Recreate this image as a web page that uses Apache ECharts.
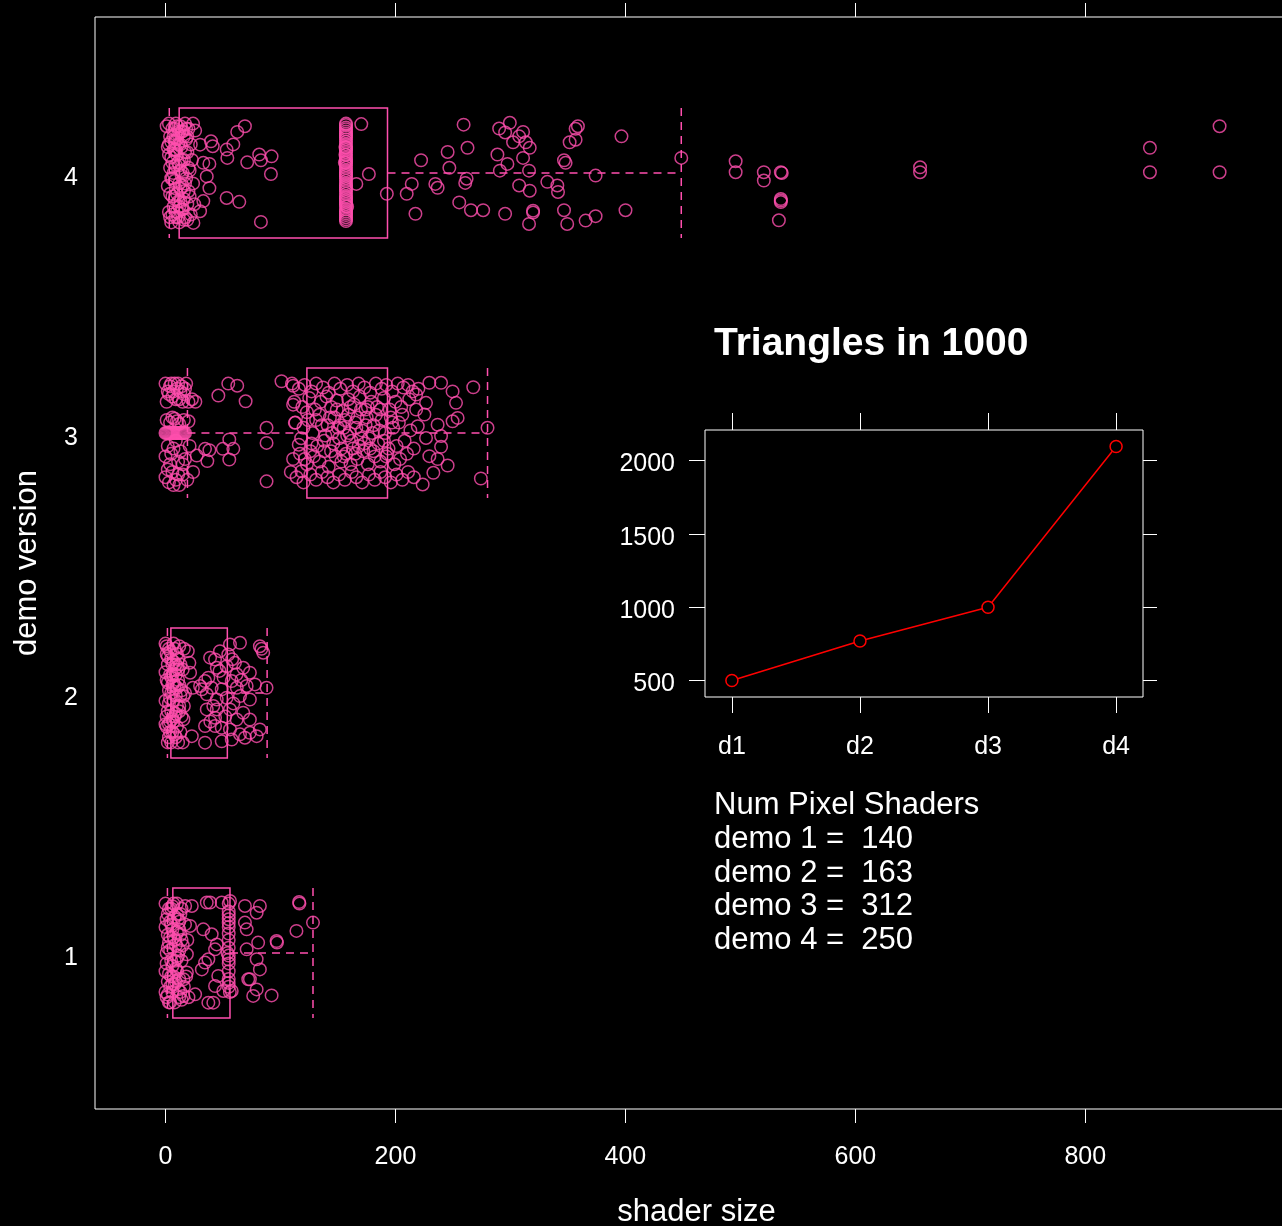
<!DOCTYPE html>
<html>
<head>
<meta charset="utf-8">
<script src="https://cdn.jsdelivr.net/npm/echarts@6/dist/echarts.min.js"></script>
<style>
  html, body { margin: 0; padding: 0; background: #000; }
  #chart { width: 1282px; height: 1226px; }
</style>
</head>
<body>
<div id="chart"></div>
<script>
// --- data ---
// jittered points per demo: [shader size, vertical jitter]
const demo1Points = [
  [0,0.19],[1,0.13],[2,0.07],[3,0.17],[4,0.01],[5,0.11],[6,-0.05],[7,0.19],[8,0.05],[9,-0.11],[10,0.15],[11,-0.01],
  [12,0.09],[13,-0.15],[14,0.17],[15,0.03],[0,-0.07],[1,-0.17],[2,-0.11],[3,-0.19],[4,-0.13],[5,-0.03],[6,-0.15],
  [7,-0.09],[8,-0.19],[9,0.03],[10,-0.07],[11,0.13],[12,-0.17],[13,0.07],[14,-0.03],[16,-0.13],[17,0.11],[18,-0.09],
  [19,0.05],[20,-0.17],[2,0.15],[4,-0.19],[6,0.09],[8,-0.03],[10,0.19],[12,0.01],[1,0],[3,0.04],[5,-0.09],
  [0,0.1],[1,-0.04],[2,0.02],[3,-0.08],[4,0.12],[5,0.17],[6,-0.12],[7,0.06],[8,0.14],[9,-0.06],[10,0.08],[11,-0.14],
  [12,-0.1],[13,0.15],[14,0.05],[0,-0.15],[2,-0.16],[4,0.06],[6,0.18],[8,-0.12],[10,-0.02],[12,0.12],[14,-0.18],
  [55,0.19],[55,0.16],[55,0.13],[55,0.1],[55,0.075],[55,0.05],[55,0.02],[55,-0.01],[55,-0.04],[55,-0.07],[55,-0.1],
  [55,-0.13],[54,0],[56,-0.15],[55,0.145],[55,0.115],[55,-0.025],[55,-0.115],
  [116.2,0.196],[116.5,0.19],[113.9,0.085],[128.3,0.117],[96.6,0.046],[97,0.04],[92.3,-0.163],[76.3,-0.165],
  [73.4,-0.101],[79.3,-0.14],[82.1,-0.063],[79.3,-0.024],[70.6,0.014],[80.6,0.04],[82.1,0.181],[79.3,0.155],
  [69.1,0.181],[69.1,0.117],[70.6,0.091],[72,-0.101],[35.9,0.194],[38.8,0.194],[48.9,0.194],[56.1,0.2],
  [43.1,0.014],[44.6,0.033],[40.2,0.072],[32.9,0.091],[34.4,-0.037],[37.3,-0.024],[45.9,-0.088],[43.1,-0.127],
  [41.6,-0.191],[37.3,-0.191],[25.8,-0.159],[31.6,-0.063],[18.6,-0.005],[21.4,0.104],[17.1,0.181],[22.9,0.181],
  [50.3,-0.146],[57.6,-0.146],[15.6,-0.165],[15.6,-0.101],[18.6,-0.075]
];
const demo2Points = [
  [0,0.19],[1,0.15],[2,0.11],[3,0.17],[4,0.07],[5,0.13],[6,0.03],[7,0.19],[8,0.09],[9,-0.01],[10,0.15],[11,0.05],
  [12,-0.05],[13,0.11],[14,-0.09],[0,-0.03],[1,-0.13],[2,-0.07],[3,-0.17],[4,-0.11],[5,-0.19],[6,-0.15],[7,-0.03],
  [8,-0.09],[9,-0.17],[10,-0.13],[11,-0.19],[12,-0.07],[13,-0.15],[14,0.01],[15,-0.19],[16,0.17],[3,0.01],[5,0],
  [7,-0.11],[9,0.07],[11,0.13],[13,-0.01],[1,0.05],[15,0.09],[16,-0.05],[17,0],[6,0.11],[8,0.17],[2,-0.19],[10,0.02],
  [12,0.18],[4,-0.02],
  [0,0.08],[1,-0.09],[2,0.04],[3,-0.04],[4,0.16],[5,-0.07],[6,-0.1],[7,0.12],[8,-0.16],[9,0.11],[10,-0.05],[11,0.09],
  [0,-0.12],[2,0.14],[4,-0.15],[6,0.07],[8,0.03],[10,0.1],[12,0.03],[1,0.18],[3,-0.12],[5,0.06],[7,0.04],[9,-0.08],
  [19.4,0.161],[20.8,0.116],[21.4,0.078],[23.8,0.02],[22.9,-0.166],[15.6,-0.012],[15.6,-0.101],[38.8,0.136],
  [43.1,0.129],[47.4,0.161],[56.1,0.187],[64.8,0.193],[54.6,0.148],[60.4,0.116],[67.6,0.097],[73.4,0.078],
  [53.2,0.103],[44.6,0.097],[37.3,0.059],[34.4,0.046],[31.6,0.014],[40.2,0.02],[48.9,0.014],[57.6,0.046],
  [61.9,0.072],[70.6,0.027],[77.8,0.033],[87.9,0.02],[82.1,0.18],[85,0.155],[83.5,0.17],[35.9,-0.005],
  [44.6,-0.025],[53.2,-0.018],[64.8,-0.012],[73.4,-0.025],[35.9,-0.063],[44.6,-0.063],[56.1,-0.063],[67.6,-0.076],
  [43.1,-0.095],[61.9,-0.102],[73.4,-0.102],[34.4,-0.127],[43.1,-0.127],[48.9,-0.134],[56.1,-0.14],[64.8,-0.159],
  [73.4,-0.153],[82.1,-0.14],[34.4,-0.191],[48.9,-0.186],[57.6,-0.179],[69.1,-0.172],[79.3,-0.166],[30.1,0.027],
  [41.6,-0.05],[50.5,0.06],[59,-0.04],[66,0.05],[39,-0.11],[52,-0.09],[62,0.02],[47,0.085],[58,0.13]
];
const demo3Points = [
  [0,0],[1,0],[2,0],[3,0],[4,0],[5,0],[6,0],[7,0],[8,0],[9,0],[10,0],[11,0],[12,0],[13,0],[14,0],[15,0],[16,0],[17,0],
  [0,0.19],[2,0.16],[4,0.18],[6,0.14],[8,0.19],[10,0.17],[12,0.13],[14,0.18],[16,0.15],[18,0.19],[20,0.12],[23,0.13],[26,0.12],
  [1,0.12],[3,0.15],[5,0.19],[7,0.16],[9,0.13],[11,0.19],[13,0.16],[15,0.12],[17,0.17],
  [1,0.05],[4,0.04],[8,0.055],[12,0.035],[16,0.05],[20,0.045],[6,0.06],[10,0.045],
  [2,-0.05],[5,-0.08],[9,-0.03],[13,-0.07],[17,-0.1],[21,-0.05],[11,-0.11],[0,-0.09],[4,-0.12],[7,-0.06],[15,-0.12],
  [0,-0.17],[3,-0.19],[6,-0.15],[9,-0.18],[12,-0.2],[15,-0.16],[19,-0.18],[24,-0.15],[2,-0.14],[7,-0.2],[11,-0.16],
  [46,0.144],[54.6,0.19],[62.4,0.182],[69.7,0.122],[27.2,-0.087],[34.4,-0.061],[38.2,-0.066],[36.4,-0.108],
  [49.8,-0.061],[55.5,-0.025],[59,-0.061],[55.5,-0.102],[87.9,0.02],[87.9,-0.038],[87.9,-0.186],[100.9,0.199],
  [111,0.182],[111,0.109],[112.5,0.039],[115.9,-0.045],[121.1,-0.1],[118.3,-0.147],
  [110,0.19],[116,0.17],[121,0.185],[127,0.16],[131,0.19],[137,0.175],[142,0.155],[147,0.19],[152,0.17],[158,0.185],
  [163,0.16],[168,0.19],[173,0.175],[178,0.155],[183,0.19],[188,0.17],[192,0.185],[197,0.16],[202,0.19],[207,0.175],
  [211,0.185],[215,0.16],[220,0.17],
  [112,0.12],[119,0.1],[125,0.135],[130,0.09],[135,0.12],[140,0.14],[144,0.1],[149,0.125],[154,0.085],[159,0.13],
  [164,0.11],[169,0.14],[174,0.09],[179,0.12],[184,0.1],[190,0.135],[195,0.09],[200,0.12],[205,0.1],[212,0.13],[218,0.09],
  [113,0.04],[118,-0.02],[124,0.05],[128,0],[132,-0.05],[136,0.03],[139,-0.01],[143,0.06],[146,-0.04],[150,0.02],
  [153,-0.06],[156,0.05],[160,0],[162,-0.03],[165,0.04],[168,-0.05],[171,0.01],[175,0.06],[177,-0.02],[181,0.03],
  [185,-0.04],[188,0.05],[191,0],[194,-0.06],[198,0.02],[203,0.04],[208,-0.03],[145,0],[152,0.03],[158,-0.01],
  [166,0.02],[173,-0.04],[180,0],
  [134,0.07],[141,0.03],[147,0.06],[151,-0.02],[155,0.02],[159,0.07],[163,-0.06],[167,0.06],[170,-0.02],[174,0.03],
  [178,-0.06],[183,0.07],[186,0.01],[190,-0.03],[196,0.06],[201,-0.05],[206,0.07],[213,0.01],[216,-0.06],
  [138,-0.03],[144,-0.07],[149,0.09],[155,-0.09],[161,0.1],[165,-0.08],[170,0.09],[176,0.1],[181,-0.07],[187,0.09],
  [192,-0.09],[197,0.04],[123,0.08],[127,-0.04],[131,0.05],[120,0.02],[126,-0.07],
  [111,-0.1],[117,-0.08],[123,-0.12],[129,-0.09],[134,-0.11],[138,-0.07],[142,-0.13],[148,-0.09],[153,-0.11],
  [157,-0.08],[161,-0.12],[167,-0.1],[172,-0.07],[176,-0.12],[182,-0.09],[187,-0.11],[193,-0.08],[199,-0.12],
  [204,-0.1],[210,-0.08],
  [109,-0.15],[114,-0.17],[120,-0.19],[126,-0.16],[131,-0.18],[136,-0.15],[141,-0.17],[146,-0.19],[151,-0.16],
  [156,-0.18],[162,-0.15],[166,-0.17],[171,-0.19],[177,-0.16],[182,-0.18],[187,-0.15],[191,-0.17],[196,-0.19],
  [201,-0.16],[206,-0.18],[211,-0.15],[216,-0.17],
  [239.7,0.193],[249.7,0.16],[252.7,0.116],[254.1,0.058],[249.7,0.045],[236.7,0.032],[239.7,-0.012],[239.7,-0.053],
  [236.7,-0.1],[245.4,-0.125],[226.6,-0.019],[229.5,-0.089],[229.5,0.193],[267.7,0.176],[280.1,0.02],[274.3,-0.175],
  [223.7,-0.198],[226.6,0.116],[218,0.148],[225.2,0.071],[233,-0.153],[219.4,0.026]
];
const demo4Points = [
  [1,0.18],[2,0.1],[2,-0.05],[3,0.19],[3,-0.15],[4,0.02],[4,0.14],[5,-0.19],[5,0.06],[6,-0.09],[6,0.17],[7,0],
  [7,-0.13],[8,0.12],[8,-0.03],[9,0.19],[9,-0.17],[10,0.07],[10,-0.08],[11,0.15],[11,-0.11],[12,0.03],[12,-0.19],
  [13,0.18],[13,-0.06],[14,0.1],[14,-0.14],[15,0],[15,0.16],[16,-0.1],[16,0.05],[17,0.19],[17,-0.17],[18,-0.02],
  [18,0.13],[19,0.08],[19,-0.12],[20,0.17],[20,-0.07],[21,0.01],[22,-0.16],[22,0.11],[23,0.05],[24,-0.04],[24,0.19],
  [25,-0.12],[6,0.04],[8,0.09],[10,-0.15],[12,0.16],[14,-0.01],[16,-0.18],[4,-0.08],[11,0.11],[13,0.01],[9,0.03],
  [7,0.14],[15,-0.05],[18,0.17],[20,0.02],
  [3,0.07],[5,-0.02],[5,0.12],[6,-0.16],[7,0.09],[8,-0.1],[9,-0.06],[10,0.13],[11,0.04],[12,-0.13],[13,0.11],
  [14,0.05],[15,-0.14],[16,0.14],[17,-0.04],[17,0.08],[19,-0.18],[10,0.18],[12,-0.04],[14,0.16],[8,0.17],[6,-0.02],
  [11,-0.17],[13,-0.11],[9,0.09],[16,-0.07],[3,0.11],[4,-0.17],[19,0.14],[21,-0.09],
  [25.8,0.163],[30.1,0.109],[39.6,0.122],[41.1,0.103],[32.9,0.039],[38.2,0.035],[35.9,-0.013],[38.2,-0.058],
  [32.9,-0.108],[30.1,-0.147],[24.3,-0.192],[53.2,0.09],[53.8,0.058],[59,0.11],[62.4,0.158],[69.1,0.18],
  [53.2,-0.096],[64.2,-0.111],[71.1,0.041],[81.5,0.071],[83,0.049],[92.3,0.064],[91.7,-0.004],[83,-0.188],
  [157,0.19],[157,0.175],[157,0.16],[157,0.145],[157,0.13],[157,0.11],[157,0.095],[157,0.08],[157,0.06],[157,0.045],
  [157,0.03],[157,0.01],[157,-0.005],[157,-0.02],[157,-0.04],[157,-0.055],[157,-0.07],[157,-0.09],[157,-0.105],
  [157,-0.12],[157,-0.14],[157,-0.155],[157,-0.17],[157,-0.185],[156,0.04],[158,-0.13],
  [157,0.185],[157,0.168],[157,0.152],[157,0.138],[157,0.12],[157,0.1],[157,0.088],[157,0.07],[157,0.052],[157,0.038],
  [157,0.02],[157,0.002],[157,-0.012],[157,-0.03],[157,-0.048],[157,-0.062],[157,-0.08],[157,-0.097],[157,-0.112],
  [157,-0.128],[157,-0.148],[157,-0.162],[157,-0.178],[156.5,0.07],[156.5,0.1],
  [170.3,0.188],[176.9,-0.004],[166,-0.042],[192.5,-0.08],
  [209.8,-0.08],[214.2,-0.042],[217.4,-0.157],[222.3,0.049],[234.7,-0.042],[236.7,-0.057],[245.4,0.081],[246.9,0.02],
  [255.5,-0.113],[259.3,0.186],[260.7,-0.038],[261.9,-0.022],[262.7,0.097],[265.7,-0.143],[276.3,-0.143],[288.7,0.071],
  [290.2,0.171],[290.8,0.009],[295.4,0.156],[297.4,0.035],[295.4,-0.157],[299.5,0.193],[302.3,0.118],[307.6,-0.048],
  [307.6,0.141],[311,0.158],[311,0.058],[313.4,0.118],[316.2,0.009],[316.8,0.097],[316.8,-0.068],[319.7,-0.145],
  [319.7,-0.152],[316.2,-0.196],[332.1,-0.034],[340.8,-0.048],[341.4,-0.073],[346.6,0.049],[348,0.039],[346.6,-0.143],
  [349.4,-0.196],[351.5,0.118],[356.7,0.128],[356.7,0.17],[358.7,0.18],[365.4,-0.183],[374.1,-0.166],[374.1,-0.01],
  [396.6,0.141],[400.1,-0.143],[448.6,0.058],
  [495.9,0.045],[495.9,0.003],[520.4,0.003],[520.4,-0.029],[535.2,0.003],[536,0],[535.2,-0.1],[535.2,-0.106],
  [535.2,-0.112],[533.5,-0.182],[656.3,0.022],[656.3,0.003],[856.2,0.097],[856.2,0.003],[916.8,0.18],[916.8,0.003]
];

// box-and-whisker stats per demo: [lower whisker, Q1, Q3, upper whisker]
const demoLevels = [1, 2, 3, 4];
const boxStats = [
  [1.7, 6.4, 56.1, 128.3],
  [1.7, 4.7, 53.8, 88.4],
  [19.1, 123, 193.1, 280.1],
  [3.3, 11.9, 193.1, 448.6]
];
const shaderTicks = [0, 200, 400, 600, 800];

// inset: triangles (in 1000) per demo
const insetCategories = ['d1', 'd2', 'd3', 'd4'];
const trianglesK = [500, 770, 1000, 2095];
const insetTicks = [500, 1000, 1500, 2000];

// pixel shader counts
const pixelShaders = [140, 163, 312, 250];

const PINK = '#ff4fae';
const FONT = '"Liberation Sans", Arial, sans-serif';
const BOX_HALF = 0.25;

const allPoints = [demo1Points, demo2Points, demo3Points, demo4Points];
const scatterData = [];
allPoints.forEach(function (pts, i) {
  pts.forEach(function (p) { scatterData.push([p[0], demoLevels[i] + p[1]]); });
});
const boxData = boxStats.map(function (s, i) { return [demoLevels[i]].concat(s); });

const chart = echarts.init(document.getElementById('chart'), null, { renderer: 'canvas' });

const labelStyle = { color: '#fff', fontSize: 25, fontFamily: FONT };
const tickStyle = { color: '#fff', width: 1 };
const plain = function (v) { return String(v); };

chart.setOption({
  backgroundColor: '#000',
  animation: false,
  title: {
    text: 'Triangles in 1000',
    left: 714, top: 325, padding: 0,
    textStyle: { color: '#fff', fontSize: 39, fontWeight: 'bold', fontFamily: FONT }
  },
  grid: [
    { left: 95, top: 17, width: 1203, height: 1092, show: true, borderColor: '#fff', borderWidth: 1,
      containLabel: false, outerBoundsMode: 'none' },
    { left: 705, top: 430, width: 438, height: 267, show: true, borderColor: '#fff', borderWidth: 1,
      containLabel: false, outerBoundsMode: 'none' }
  ],
  xAxis: [
    {
      gridIndex: 0, type: 'value', min: -61.3, max: 985, position: 'bottom',
      axisLine: { show: false }, splitLine: { show: false },
      axisTick: { customValues: shaderTicks, length: 14, lineStyle: tickStyle },
      axisLabel: Object.assign({ customValues: shaderTicks, margin: 36, formatter: plain }, labelStyle),
      name: 'shader size', nameLocation: 'middle', nameGap: 88,
      nameTextStyle: { color: '#fff', fontSize: 31, fontFamily: FONT }
    },
    {
      gridIndex: 0, type: 'value', min: -61.3, max: 985, position: 'top',
      axisLine: { show: false }, splitLine: { show: false },
      axisTick: { customValues: shaderTicks, length: 14, lineStyle: tickStyle },
      axisLabel: { show: false }
    },
    {
      gridIndex: 1, type: 'value', min: 0.79, max: 4.21, position: 'bottom',
      axisLine: { show: false }, splitLine: { show: false },
      axisTick: { customValues: [1, 2, 3, 4], length: 16, lineStyle: tickStyle },
      axisLabel: Object.assign({
        customValues: [1, 2, 3, 4], margin: 38,
        formatter: function (v) { return insetCategories[Math.round(v) - 1]; }
      }, labelStyle)
    },
    {
      gridIndex: 1, type: 'value', min: 0.79, max: 4.21, position: 'top',
      axisLine: { show: false }, splitLine: { show: false },
      axisTick: { customValues: [1, 2, 3, 4], length: 17, lineStyle: tickStyle },
      axisLabel: { show: false }
    }
  ],
  yAxis: [
    {
      gridIndex: 0, type: 'value', min: 0.4, max: 4.6, position: 'left',
      axisLine: { show: false }, splitLine: { show: false },
      axisTick: { show: false },
      axisLabel: Object.assign({
        customValues: demoLevels, margin: 17, formatter: plain, verticalAlign: 'top', lineHeight: 10
      }, labelStyle),
      name: 'demo version', nameLocation: 'middle', nameGap: 52,
      nameTextStyle: { color: '#fff', fontSize: 31, fontFamily: FONT }
    },
    {
      gridIndex: 1, type: 'value', min: 388, max: 2207, position: 'left',
      axisLine: { show: false }, splitLine: { show: false },
      axisTick: { customValues: insetTicks, length: 16, lineStyle: tickStyle },
      axisLabel: Object.assign({
        customValues: insetTicks, margin: 30, formatter: plain, verticalAlign: 'top', lineHeight: 8
      }, labelStyle)
    },
    {
      gridIndex: 1, type: 'value', min: 388, max: 2207, position: 'right',
      axisLine: { show: false }, splitLine: { show: false },
      axisTick: { customValues: insetTicks, length: 14, lineStyle: tickStyle },
      axisLabel: { show: false }
    }
  ],
  graphic: [{
    type: 'text', left: 714, top: 789,
    style: {
      text: ['Num Pixel Shaders'].concat(pixelShaders.map(function (n, i) {
        return 'demo ' + demoLevels[i] + ' =  ' + n;
      })).join('\n'),
      fill: '#fff', fontSize: 31, fontFamily: FONT, lineHeight: 33.7
    }
  }],
  series: [
    {
      type: 'custom', xAxisIndex: 0, yAxisIndex: 0, data: boxData,
      encode: { x: [1, 2, 3, 4], y: 0 }, silent: true, z: 1,
      renderItem: function (params, api) {
        const lv = api.value(0);
        const pLo = api.coord([api.value(1), lv]);
        const pQ1 = api.coord([api.value(2), lv]);
        const pQ3 = api.coord([api.value(3), lv]);
        const pHi = api.coord([api.value(4), lv]);
        const top = api.coord([0, lv + BOX_HALF])[1];
        const bot = api.coord([0, lv - BOX_HALF])[1];
        const solid = { stroke: PINK, lineWidth: 1.5, fill: 'none' };
        const dashed = { stroke: PINK, lineWidth: 1.5, lineDash: [8, 6] };
        return {
          type: 'group',
          children: [
            { type: 'rect', shape: { x: pQ1[0], y: top, width: pQ3[0] - pQ1[0], height: bot - top }, style: solid },
            { type: 'line', shape: { x1: pLo[0], y1: pLo[1], x2: pQ1[0], y2: pQ1[1] }, style: dashed },
            { type: 'line', shape: { x1: pQ3[0], y1: pQ3[1], x2: pHi[0], y2: pHi[1] }, style: dashed },
            { type: 'line', shape: { x1: pLo[0], y1: top, x2: pLo[0], y2: bot }, style: dashed },
            { type: 'line', shape: { x1: pHi[0], y1: top, x2: pHi[0], y2: bot }, style: dashed }
          ]
        };
      }
    },
    {
      type: 'scatter', xAxisIndex: 0, yAxisIndex: 0, data: scatterData,
      symbol: 'circle', symbolSize: 12.5, silent: true, z: 2,
      itemStyle: { color: 'none', borderColor: PINK, borderWidth: 1.5 }
    },
    {
      type: 'line', xAxisIndex: 2, yAxisIndex: 1,
      data: trianglesK.map(function (v, i) { return [i + 1, v]; }),
      symbol: 'circle', symbolSize: 12, showSymbol: true,
      lineStyle: { color: '#ff0000', width: 1.5 },
      itemStyle: { color: '#000', borderColor: '#ff0000', borderWidth: 1.5 }
    }
  ]
});
</script>
</body>
</html>
